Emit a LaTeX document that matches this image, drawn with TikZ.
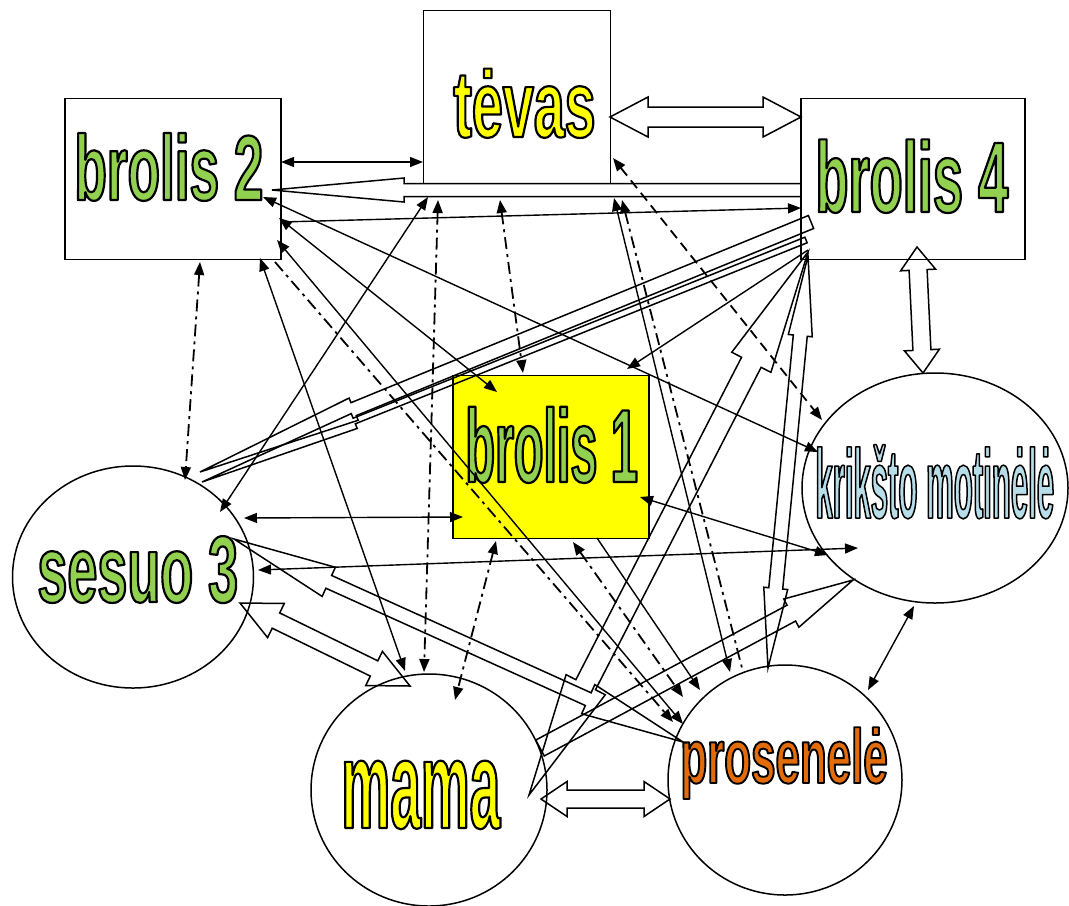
\documentclass[tikz,border=0pt]{standalone}
\usepackage{fontspec}
\setmainfont{Liberation Sans}
\usetikzlibrary{shapes.geometric,arrows.meta,calc}

\definecolor{lgreen}{RGB}{146,208,80}
\definecolor{pyellow}{RGB}{255,255,0}
\definecolor{lblue}{RGB}{183,221,232}
\definecolor{porange}{RGB}{227,108,10}

% filled text with a black outline: colour, stretch, size, outline width, text
\newcommand{\outl}[5]{{\fontspec{Liberation Sans Bold}[FakeStretch=#2]\fontsize{#3}{#3}\selectfont
  \textcolor{#1}{\special{pdf:literal direct 0 G #4 w 1 j 2 Tr}#5\special{pdf:literal direct 0 Tr}}}}

% hollow arrow, head at #2
\newcommand{\hollowone}[5]{%
  \coordinate (hb) at ($(#2)!#5!(#1)$);
  \draw[hollow] ($(#1)!#3!90:(#2)$) -- ($(hb)!#3!90:(#2)$) -- ($(hb)!#4!90:(#2)$) -- (#2)
    -- ($(hb)!#4!-90:(#2)$) -- ($(hb)!#3!-90:(#2)$) -- ($(#1)!#3!-90:(#2)$) -- cycle;}
% hollow arrow, heads at both ends
\newcommand{\hollowtwo}[5]{%
  \coordinate (ha) at ($(#1)!#5!(#2)$);
  \coordinate (hb) at ($(#2)!#5!(#1)$);
  \draw[hollow] (#1) -- ($(ha)!#4!-90:(#1)$) -- ($(ha)!#3!-90:(#1)$) -- ($(hb)!#3!90:(#2)$)
    -- ($(hb)!#4!90:(#2)$) -- (#2) -- ($(hb)!#4!-90:(#2)$) -- ($(hb)!#3!-90:(#2)$)
    -- ($(ha)!#3!90:(#1)$) -- ($(ha)!#4!90:(#1)$) -- cycle;}

\tikzset{
  box/.style={draw, line width=0.75pt, inner sep=0pt},
  oval/.style={ellipse, draw, line width=0.75pt, inner sep=0pt},
  lnk/.style={line width=0.7pt},
  dd/.style={line width=0.9pt, dash pattern=on 6pt off 2.5pt on 1.5pt off 2.5pt},
  dsh/.style={line width=0.9pt, dash pattern=on 5pt off 3pt},
  hollow/.style={line width=0.75pt, line join=miter},
  lbl/.style={inner sep=0pt, anchor=base west},
  >={Triangle[length=6.5pt,width=5pt]}
}

\begin{document}
\begin{tikzpicture}[x=0.5pt,y=-0.5pt]
\useasboundingbox (0,0) rectangle (1069,905);

\node[box, minimum width=93.5pt, minimum height=86.5pt] (tv) at (517,97) {};
\node[box, minimum width=108pt, minimum height=80.5pt] (b2) at (173,179) {};
\node[box, minimum width=112pt, minimum height=80.5pt] (b4) at (913,179) {};
\node[box, fill=pyellow, minimum width=98pt, minimum height=81.5pt] (b1) at (551,457) {};
\node[oval, minimum width=133pt, minimum height=115pt] (km) at (935,488) {};
\node[oval, minimum width=120.5pt, minimum height=111pt] (s3) at (133,577) {};
\node[oval, minimum width=118pt, minimum height=116pt] (mm) at (429,790) {};
\node[oval, minimum width=117pt, minimum height=115pt] (pr) at (785,780) {};

\node[lbl] (tv-t) at ($(tv)+(-64,40)$) {\outl{pyellow}{0.589}{47.2pt}{1.1}{tėvas}};
\node[lbl] (b2-t) at ($(b2)+(-99,21)$) {\outl{lgreen}{0.575}{46.2pt}{1.1}{brolis 2}};
\node[lbl] (b4-t) at ($(b4)+(-98,33)$) {\outl{lgreen}{0.541}{50.1pt}{1.1}{brolis 4}};
\node[lbl] (b1-t) at ($(b1)+(-86,25)$) {\outl{lgreen}{0.466}{52pt}{1.1}{brolis 1}};
\node[lbl] (km-t) at ($(km)+(-120,30)$) {\outl{lblue}{0.317}{49.1pt}{0.75}{krikšto motinėlė}};
\node[lbl] (s3-t) at ($(s3)+(-96,25)$) {\outl{lgreen}{0.571}{47.2pt}{1.1}{sesuo 3}};
\node[lbl] (mm-t) at ($(mm)+(-88,38)$) {\outl{pyellow}{0.439}{62.6pt}{1.1}{mama}};
\node[lbl] (pr-t) at ($(pr)+(-105,3)$) {\outl{porange}{0.570}{38.5pt}{0.95}{prosenelė}};

% hollow arrows
\coordinate (h1a) at ($(tv)+(93,20)$);   \coordinate (h1b) at ($(b4)+(-112,-62)$);
\coordinate (h2a) at ($(b4)+(-112,11)$); \coordinate (h2b) at ($(b2)+(99,11)$);
\coordinate (h3a) at ($(b4)+(4,68)$);    \coordinate (h3b) at ($(km)+(-12,-115)$);
\coordinate (h4a) at ($(b4)+(-102,43)$); \coordinate (h4b) at ($(s3)+(67,-105)$);
\coordinate (h5a) at ($(b4)+(-107,61)$); \coordinate (h5b) at ($(s3)+(69,-95)$);
\coordinate (h6a) at ($(b4)+(-105,73)$); \coordinate (h6b) at ($(mm)+(100,5)$);
\coordinate (h7a) at ($(b4)+(-105,77)$); \coordinate (h7b) at ($(pr)+(-17,-112)$);
\coordinate (h8a) at ($(mm)+(111,-42)$); \coordinate (h8b) at ($(km)+(-82,92)$);
\coordinate (h9a) at ($(s3)+(107,26)$);  \coordinate (h9b) at ($(mm)+(-19,-104)$);
\coordinate (h10a) at ($(s3)+(101,-38)$); \coordinate (h10b) at ($(pr)+(-102,-38)$);
\coordinate (h11a) at ($(mm)+(112,9)$);  \coordinate (h11b) at ($(pr)+(-115,19)$);

\hollowtwo{h1a}{h1b}{5pt}{10pt}{19pt}
\hollowone{h2a}{h2b}{3.25pt}{6pt}{66pt}
\hollowtwo{h3a}{h3b}{4.5pt}{8.75pt}{11.5pt}
\hollowone{h4a}{h4b}{3.5pt}{6pt}{83pt}
\hollowone{h5a}{h5b}{1.5pt}{4pt}{82pt}
\hollowtwo{h6a}{h6b}{5.5pt}{11pt}{62pt}
\hollowtwo{h7a}{h7b}{3.5pt}{6pt}{40pt}
\hollowone{h8a}{h8b}{4.5pt}{8pt}{35pt}
\hollowtwo{h9a}{h9b}{4.25pt}{9.5pt}{20pt}
\hollowtwo{h10a}{h10b}{3.5pt}{8pt}{52pt}
\hollowtwo{h11a}{h11b}{4.5pt}{8.75pt}{13pt}

% thin arrows
\draw[lnk,<->] ($(b2)+(108,-17)$) -- ($(tv)+(-94,65)$);
\draw[lnk,->] ($(b2)+(108,43)$) -- ($(b4)+(-112,29)$);
\draw[lnk,<->] ($(b2)+(90,18)$) -- ($(km)+(-117,-36)$);
\draw[lnk,<->] ($(b2)+(106,39)$) -- ($(b1)+(-54,-65)$);
\draw[lnk,<->] ($(b2)+(87,79)$) -- ($(mm)+(-24,-119)$);
\draw[lnk,<->] ($(b2)+(104,61)$) -- ($(pr)+(-102,-56)$);
\draw[lnk,->] ($(b4)+(-105,71)$) -- ($(b1)+(76,-88)$);
\draw[lnk,<->] ($(s3)+(87,-65)$) -- ($(tv)+(-89,100)$);
\draw[lnk,<->] ($(s3)+(111,-59)$) -- ($(b1)+(-88,60)$);
\draw[lnk,<->] ($(s3)+(125,-7)$) -- ($(km)+(-77,60)$);
\draw[lnk,<->] ($(b1)+(89,40)$) -- ($(km)+(-107,67)$);
\draw[lnk,<->] ($(km)+(-21,118)$) -- ($(pr)+(83,-90)$);
\draw[lnk,<->] ($(tv)+(97,101)$) -- ($(pr)+(-55,-108)$);
\draw[lnk,->] ($(b1)+(46,81)$) -- ($(pr)+(-85,-90)$);

% dash-dot and dashed arrows
\draw[dd,->] ($(b2)+(102,83)$) -- ($(pr)+(-112,-58)$);
\draw[dd,<-] ($(tv)+(105,103)$) -- ($(pr)+(-43,-112)$);
\draw[dd,<->] ($(b2)+(27,83)$) -- ($(s3)+(52,-97)$);
\draw[dd,<->] ($(tv)+(-79,103)$) -- ($(mm)+(-5,-118)$);
\draw[dd,<->] ($(tv)+(-17,103)$) -- ($(b1)+(-28,-84)$);
\draw[dd,<->] ($(b1)+(-55,84)$) -- ($(mm)+(26,-90)$);
\draw[dd,<->] ($(b1)+(22,85)$) -- ($(pr)+(-102,-83)$);
\draw[dsh,<->] ($(tv)+(96,61)$) -- ($(km)+(-113,-68)$);
\end{tikzpicture}
\end{document}
